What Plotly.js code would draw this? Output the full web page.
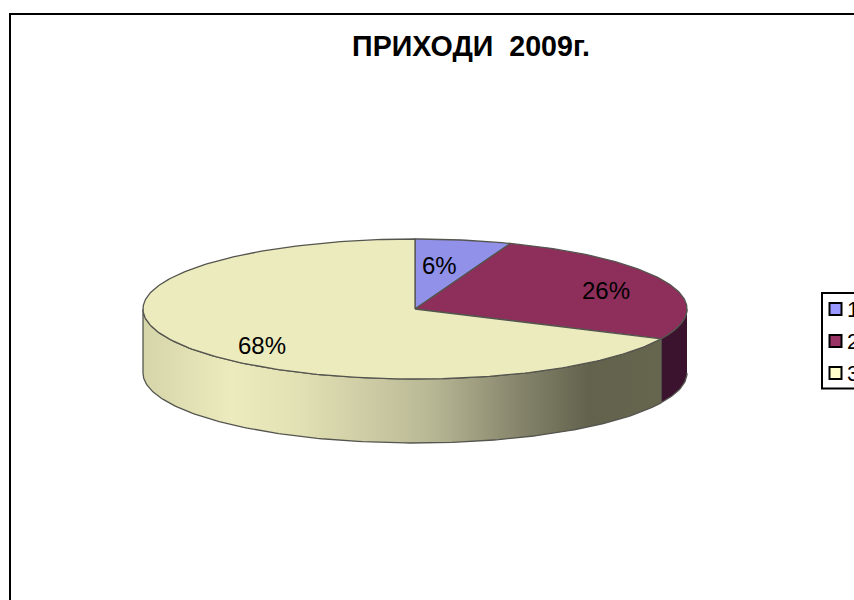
<!DOCTYPE html>
<html><head><meta charset="utf-8">
<script src="https://cdn.plot.ly/plotly-3.0.1.min.js"></script>
<style>html,body{margin:0;padding:0;background:#fff;overflow:hidden;width:854px;height:600px}</style>
</head><body><div id="chart" style="width:900px;height:700px"></div>
<script>
const categories = ['1', '2', '3'];
const values = [5.7, 26.3, 68];
const topColors = ['#9191e9', '#8e2f5b', '#ecebbd'];
const legendColors = ['#9999ff', '#993366', '#ffffcc'];
const titleText = 'ПРИХОДИ  2009г.';

const W = 900, H = 700, CX = 415, CY = 309, RX = 272, RY = 70, DEPTH = 64 / 70;
const px = p => (p - CX) / RX;
const py = p => (CY - p) / RY;
const total = values.reduce((a, b) => a + b, 0);
const pt = (deg, drop) => [Math.sin(deg * Math.PI / 180), Math.cos(deg * Math.PI / 180) - (drop || 0)];
function arc(a, b, drop) {
  const out = [], n = Math.max(2, Math.ceil(Math.abs(b - a)));
  for (let i = 0; i <= n; i++) out.push(pt(a + (b - a) * i / n, drop));
  return out;
}
let acc = 0;
const angles = values.map(v => { const s = acc; acc += v; return [s / total * 360, acc / total * 360]; });
const edge = {color: '#55554f', width: 1.3};
const poly = (pts, extra) => Object.assign({
  x: pts.map(p => p[0]), y: pts.map(p => p[1]), mode: 'lines', fill: 'toself',
  line: edge, hoverinfo: 'skip', showlegend: false
}, extra);

const a2 = angles[1][1];
const traces = [];
// side walls
traces.push(poly(arc(90, a2).concat(arc(a2, 90, DEPTH)), {fillcolor: '#3b132e', name: 'side 2'}));
traces.push(poly(arc(a2, 270).concat(arc(270, a2, DEPTH)), {
  name: 'side 3',
  fillgradient: {type: 'horizontal', colorscale: [
    [0, '#d6d5aa'], [0.17, '#ecebbd'], [0.3, '#e2e1b4'], [0.55, '#bab996'], [0.75, '#7f7e66'], [0.86, '#63634d'], [1, '#66664f']
  ]}
}));
// top faces
values.forEach((v, i) => {
  const pts = [[0, 0]].concat(arc(angles[i][0], angles[i][1]), [[0, 0]]);
  traces.push(poly(pts, {fillcolor: topColors[i], name: categories[i]}));
});

const labelPx = [[439, 265], [606, 290], [262, 345]];
const annotations = values.map((v, i) => ({
  x: px(labelPx[i][0]), y: py(labelPx[i][1]), xref: 'x', yref: 'y', text: Math.round(v) + '%', showarrow: false,
  xanchor: 'center', yanchor: 'middle', font: {family: 'Liberation Sans, Arial, sans-serif', size: 24, color: '#000'}
}));
const shapes = [
  {type: 'rect', xref: 'x', yref: 'y', x0: px(10), x1: px(1000), y0: py(14), y1: py(1000), line: {color: '#000', width: 2}, fillcolor: 'rgba(0,0,0,0)', layer: 'below'},
  {type: 'rect', xref: 'x', yref: 'y', x0: px(822), x1: px(1000), y0: py(293), y1: py(388.5), line: {color: '#000', width: 2}, fillcolor: '#fff'}
];
categories.forEach((c, i) => {
  const yc = 309 + i * 32;
  shapes.push({type: 'rect', xref: 'x', yref: 'y', x0: px(829.5), x1: px(841.5), y0: py(yc - 6), y1: py(yc + 6),
    line: {color: '#000', width: 2}, fillcolor: legendColors[i]});
  annotations.push({x: px(844.5), y: py(yc), xref: 'x', yref: 'y', text: c, showarrow: false, xanchor: 'left', yanchor: 'middle',
    font: {family: 'Liberation Sans, Arial, sans-serif', size: 22, color: '#000'}});
});

Plotly.newPlot('chart', traces, {
  width: W, height: H, margin: {l: 0, r: 0, t: 0, b: 0}, autosize: false,
  paper_bgcolor: '#fff', plot_bgcolor: '#fff', showlegend: false,
  title: {text: titleText, x: 471 / W, xanchor: 'center', xref: 'paper', y: 1 - 46 / H, yanchor: 'middle',
    font: {family: 'Liberation Sans, Arial, sans-serif', size: 28.6, weight: 700, color: '#000'}},
  xaxis: {range: [px(0), px(W)], visible: false, fixedrange: true},
  yaxis: {range: [py(H), py(0)], visible: false, fixedrange: true},
  shapes, annotations
}, {displayModeBar: false, staticPlot: true});
</script></body></html>
